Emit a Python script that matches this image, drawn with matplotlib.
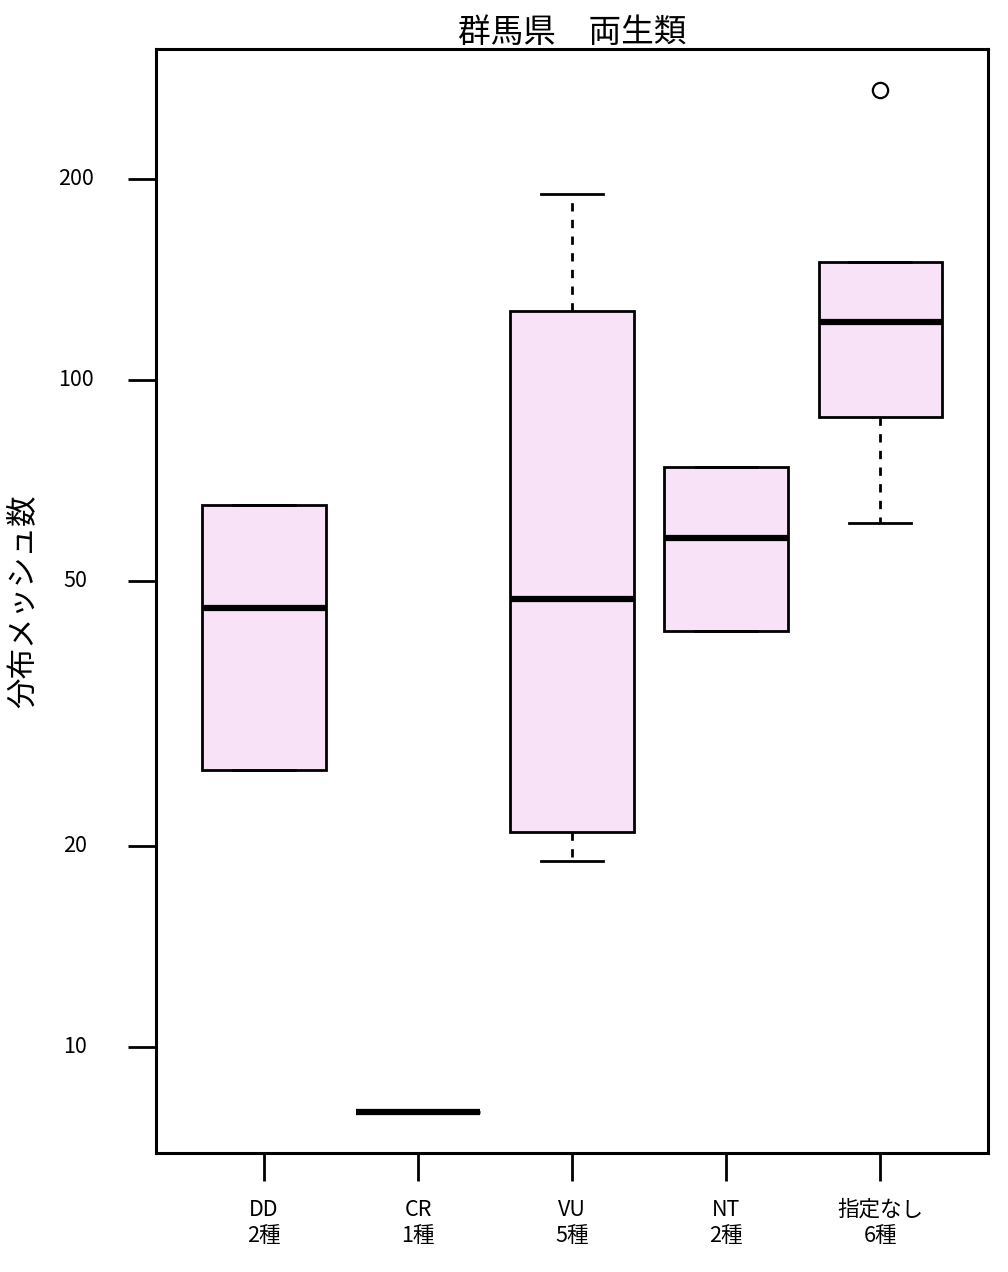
import numpy as np
import matplotlib
matplotlib.use('Agg')
import matplotlib.pyplot as plt

plt.rcParams['font.family'] = ['Noto Sans CJK JP', 'DejaVu Sans']

# 分布メッシュ数
categories = ['DD', 'CR', 'VU', 'NT', '指定なし']
dd = [26, 65]
cr = [8]
vu = [19, 21, 47, 127, 190]
nt = [42, 74]
shitei_nashi = [61, 88, 115, 129, 150, 272]
groups = [dd, cr, vu, nt, shitei_nashi]
yticks = [10, 20, 50, 100, 200]


def r_stats(vals, label):
    # R-style fivenum / boxplot.stats
    x = np.sort(np.asarray(vals, dtype=float))
    n = len(x)
    n4 = np.floor((n + 3) / 2) / 2
    d = np.array([1, n4, (n + 1) / 2, n + 1 - n4, n]) - 1
    fn = 0.5 * (x[np.floor(d).astype(int)] + x[np.ceil(d).astype(int)])
    iqr = fn[3] - fn[1]
    lo, hi = fn[1] - 1.5 * iqr, fn[3] + 1.5 * iqr
    inside = x[(x >= lo) & (x <= hi)]
    fliers = x[(x < lo) | (x > hi)]
    return dict(whislo=inside.min(), q1=fn[1], med=fn[2], q3=fn[3],
                whishi=inside.max(), fliers=fliers, label=label)


labels = [f'{c}\n{len(g)}種' for c, g in zip(categories, groups)]
stats = [r_stats(g, l) for g, l in zip(groups, labels)]

fig = plt.figure(figsize=(10.08, 12.72), dpi=100)
ax = fig.add_axes([0.1548, 0.0936, 0.8254, 0.8679])

ax.bxp(stats, positions=range(1, 6), widths=0.8, patch_artist=True,
       boxprops=dict(facecolor='#F8E2F8', edgecolor='black', linewidth=2.0),
       medianprops=dict(color='black', linewidth=4.5, solid_capstyle='butt'),
       whiskerprops=dict(color='black', linewidth=2.0, linestyle=(0, (3, 3))),
       capprops=dict(color='black', linewidth=2.0),
       capwidths=0.4,
       flierprops=dict(marker='o', markersize=11, markerfacecolor='none',
                       markeredgecolor='black', markeredgewidth=1.6))

ax.set_yscale('log')
allv = np.concatenate([np.asarray(g, float) for g in groups])
lmin, lmax = np.log10(allv.min()), np.log10(allv.max())
pad = 0.04 * (lmax - lmin)
ax.set_ylim(10 ** (lmin - pad), 10 ** (lmax + pad))
ax.set_xlim(0.3, 5.7)

ax.set_yticks(yticks)
ax.set_yticklabels([str(t) for t in yticks])
ax.yaxis.set_minor_locator(matplotlib.ticker.NullLocator())
ax.set_xticks(range(1, 6))
ax.set_xticklabels(labels, fontsize=15.5, linespacing=1.25)
ax.tick_params(axis='y', labelsize=15.5, length=20, width=2.0, pad=38)
ax.tick_params(axis='x', length=20, width=2.0, pad=13)
for lab in ax.get_yticklabels():
    lab.set_horizontalalignment('center')
    lab.set_verticalalignment('center')

for s in ax.spines.values():
    s.set_linewidth(2.2)

ax.set_title('群馬県　両生類', fontsize=23.5, pad=1)
ax.set_ylabel('分布メッシュ数', fontsize=22)
ax.yaxis.set_label_coords(-0.141, 0.5)

fig.savefig('out.png', dpi=100)
